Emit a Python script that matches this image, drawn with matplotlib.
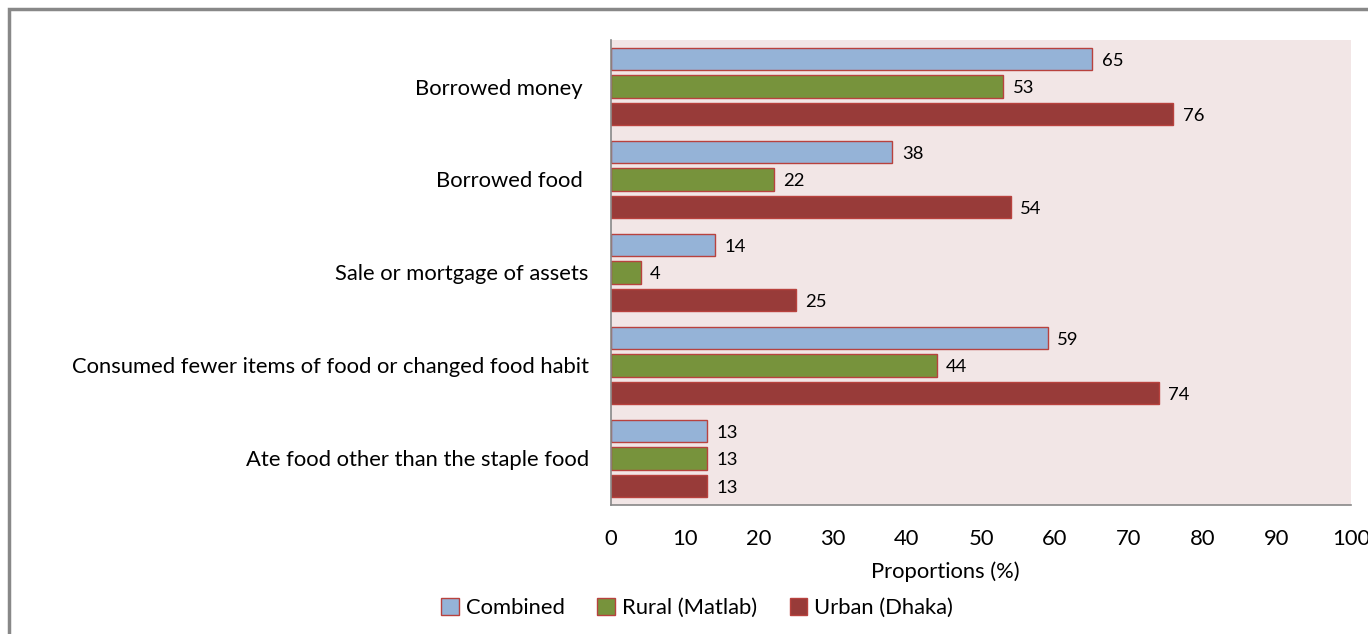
import matplotlib.pyplot as plt
import numpy as np
from matplotlib.patches import Rectangle

categories = [
    'Borrowed money ',
    'Borrowed food ',
    'Sale or mortgage of assets',
    'Consumed fewer items of food or changed food habit',
    'Ate food other than the staple food',
]
combined = [65, 38, 14, 59, 13]
rural = [53, 22, 4, 44, 13]
urban = [76, 54, 25, 74, 13]
series_names = ['Combined', 'Rural (Matlab)', 'Urban (Dhaka)']
colors = ['#95B3D7', '#77933C', '#983B39']
edge = '#B8423E'

plt.rcParams['font.family'] = ['Lato', 'DejaVu Sans']

fig = plt.figure(figsize=(13.68, 6.34), dpi=100)
ax = fig.add_axes([0.4466, 0.2035, 0.541, 0.7334])
ax.set_facecolor('#F2E6E6')

n = len(categories)
y = np.arange(n)
step = 0.296
height = 0.24
for i, (vals, col, name) in enumerate(zip([combined, rural, urban], colors, series_names)):
    pos = y + (i - 1) * step
    bars = ax.barh(pos, vals, height=height, color=col, edgecolor=edge,
                   linewidth=1.0, label=name)
    for b, v in zip(bars, vals):
        ax.text(v + 1.3, b.get_y() + b.get_height() / 2 + 0.02, str(v),
                va='center', ha='left', fontsize=13.3, color='black')

ax.set_ylim(n - 0.5, -0.5)
ax.set_xlim(0, 100)
ax.set_xticks(np.arange(0, 101, 10))
ax.set_yticks(y)
ax.set_yticklabels(categories, fontsize=15.8)
ax.tick_params(axis='both', length=0)
ax.tick_params(axis='x', labelsize=15.8, pad=17)
ax.tick_params(axis='y', pad=16)

for s in ['top', 'right']:
    ax.spines[s].set_visible(False)
for s in ['left', 'bottom']:
    ax.spines[s].set_color('#888888')
    ax.spines[s].set_linewidth(1.2)

fig.text(945 / 1368, 1 - 572 / 634, 'Proportions (%)', ha='center', va='center', fontsize=15.8)

handles, labels = ax.get_legend_handles_labels()
fig.legend(handles, labels, loc='center', bbox_to_anchor=(697 / 1368, 1 - 608 / 634),
           ncol=3, frameon=False, fontsize=15.8, handlelength=0.8, handleheight=0.8,
           columnspacing=1.5, handletextpad=0.3)

# outer chart border
fig.patches.append(Rectangle((9 / 1368, -0.1), 1.2, (634 - 9) / 634 + 0.1,
                             transform=fig.transFigure, fill=False,
                             edgecolor='#888888', linewidth=2.5))

fig.savefig('out.png', dpi=100)
